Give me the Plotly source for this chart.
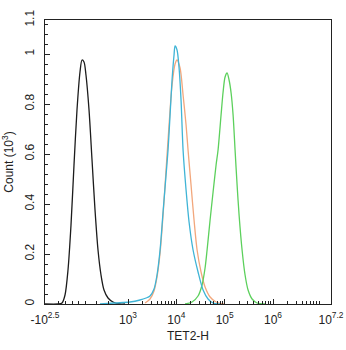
import math
import plotly.graph_objects as go

# Channel positions on the biexponential display scale (decades), counts in thousands
black_x = [1.282, 1.551, 1.634, 1.696, 1.758, 1.820, 1.882, 1.944, 2.006, 2.048, 2.089, 2.130,
           2.193, 2.255, 2.317, 2.379, 2.441, 2.503, 2.586, 2.689, 2.834, 2.938]
black_y = [0.0, 0.0, 0.004, 0.036, 0.136, 0.316, 0.556, 0.776, 0.928, 0.976, 0.968, 0.916,
           0.776, 0.576, 0.376, 0.216, 0.116, 0.056, 0.024, 0.008, 0.0, 0.0]

orange_x = [3.352, 3.455, 3.538, 3.600, 3.663, 3.725, 3.787, 3.849, 3.911, 3.973, 4.014, 4.077,
            4.139, 4.201, 4.242, 4.304, 4.366, 4.429, 4.511, 4.594, 4.698, 4.822, 4.988]
orange_y = [0.004, 0.020, 0.052, 0.108, 0.204, 0.356, 0.536, 0.716, 0.876, 0.960, 0.976, 0.944,
            0.836, 0.716, 0.616, 0.476, 0.336, 0.216, 0.128, 0.068, 0.028, 0.008, 0.0]

cyan_x = [2.420, 2.731, 3.041, 3.248, 3.373, 3.455, 3.538, 3.600, 3.663, 3.725, 3.787, 3.828,
          3.870, 3.911, 3.952, 3.973, 4.014, 4.056, 4.097, 4.139, 4.201, 4.263, 4.346, 4.449,
          4.553, 4.656, 4.760, 4.905]
cyan_y = [0.0, 0.004, 0.008, 0.016, 0.024, 0.032, 0.060, 0.116, 0.216, 0.368, 0.516, 0.616,
          0.756, 0.896, 0.996, 1.032, 1.016, 0.944, 0.816, 0.616, 0.456, 0.328, 0.216, 0.128,
          0.056, 0.020, 0.004, 0.0]

green_x = [4.180, 4.325, 4.449, 4.532, 4.594, 4.636, 4.698, 4.760, 4.822, 4.863, 4.925, 4.967,
           5.008, 5.050, 5.091, 5.133, 5.174, 5.215, 5.257, 5.298, 5.360, 5.422, 5.484, 5.567,
           5.671, 5.836]
green_y = [0.0, 0.008, 0.032, 0.076, 0.144, 0.216, 0.336, 0.448, 0.556, 0.616, 0.756, 0.848,
           0.908, 0.924, 0.896, 0.844, 0.756, 0.616, 0.476, 0.356, 0.216, 0.116, 0.056, 0.020,
           0.004, 0.0]

x_ticks = [1.282, 3, 4, 5, 6, 7.2]
x_ticktext = ["-10<sup>2.5</sup>", "10<sup>3</sup>", "10<sup>4</sup>", "10<sup>5</sup>",
              "10<sup>6</sup>", "10<sup>7.2</sup>"]
y_ticks = [0, 0.2, 0.4, 0.6, 0.8, 1.0, 1.136]
y_ticktext = ["0", "0.2", "0.4", "0.6", "0.8", "1", "1.1"]

x_min, x_max = 1.282, 7.2
y_min, y_max = 0, 1.136

# minor ticks: log spacing inside each decade plus a few in the linear region
x_minor = [1.551, 1.696, 1.841, 1.985, 2.13, 2.35, 2.6]
for dec in range(3, 8):
    for k in range(2, 10):
        v = dec + math.log10(k)
        if v < x_max:
            x_minor.append(round(v, 4))
y_minor = [round(0.04 * i, 3) for i in range(0, 29)]

fig = go.Figure()
series = [
    (orange_x, orange_y, "#f2a77c"),
    (black_x, black_y, "#1c1c1c"),
    (green_x, green_y, "#5cd05c"),
    (cyan_x, cyan_y, "#3fb4d6"),
]
for xs, ys, col in series:
    fig.add_trace(go.Scatter(x=xs, y=ys, mode="lines",
                             line=dict(color=col, width=1.3, shape="spline", smoothing=0.8),
                             showlegend=False, hoverinfo="skip"))

font = dict(family="Liberation Sans, Arial, sans-serif", size=12, color="#222222")

fig.update_layout(
    width=346, height=350,
    margin=dict(l=45, r=15, t=20, b=46, autoexpand=False),
    paper_bgcolor="white", plot_bgcolor="white",
    font=font,
    xaxis=dict(range=[x_min, x_max], tickmode="array", tickvals=x_ticks, ticktext=x_ticktext,
               ticks="inside", ticklen=5, tickcolor="#222", showgrid=False, zeroline=False,
               showline=True, linecolor="#222", linewidth=1.2, mirror=True,
               ticklabelstandoff=4, automargin=False,
               minor=dict(tickmode="array", tickvals=x_minor, ticks="inside", ticklen=3,
                          tickcolor="#222", showgrid=False),
               title=dict(text="TET2-H", standoff=6, font=font)),
    yaxis=dict(range=[y_min, y_max], tickmode="array", tickvals=y_ticks, ticktext=y_ticktext,
               tickangle=-90, ticks="inside", ticklen=5, tickcolor="#222", showgrid=False,
               zeroline=False, showline=True, linecolor="#222", linewidth=1.2, mirror=True,
               ticklabelstandoff=5, automargin=False,
               minor=dict(tickmode="array", tickvals=y_minor, ticks="inside", ticklen=3,
                          tickcolor="#222", showgrid=False),
               title=dict(text="Count (10<sup>3</sup>)", standoff=6, font=font)),
)

fig.write_html("out.html")
